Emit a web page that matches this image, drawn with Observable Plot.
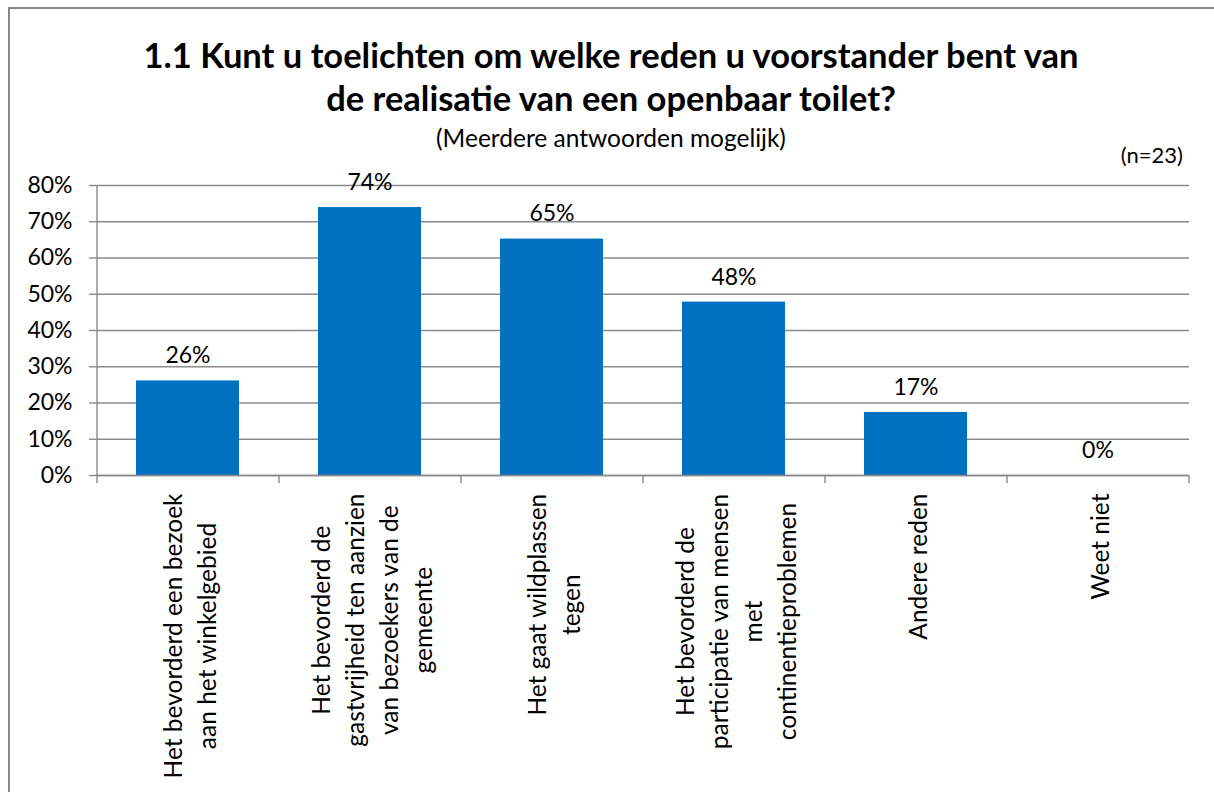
<!DOCTYPE html>
<html>
<head>
<meta charset="utf-8">
<script src="https://cdn.jsdelivr.net/npm/d3@7"></script>
<script src="https://cdn.jsdelivr.net/npm/@observablehq/plot@0.6"></script>
<style>
  html, body { margin: 0; padding: 0; background: #fff; }
  #wrap { position: relative; width: 1214px; height: 792px; overflow: hidden; font-family: Lato, "Open Sans", sans-serif; color: #000; }
  #frame { position: absolute; left: 8px; top: 7px; right: -4px; bottom: -4px; border-left: 2px solid #878787; border-top: 2px solid #878787; }
  #header { position: relative; height: 160px; }
  #title { position: absolute; left: 8px; width: 1206px; top: 33px; text-align: center; font-weight: bold; font-size: 34.5px; line-height: 43px; }
  #subtitle { position: absolute; left: 8px; width: 1206px; top: 124px; text-align: center; font-size: 24.5px; line-height: 28px; }
  #n { position: absolute; right: 31px; top: 141px; font-size: 22px; line-height: 28px; }
  #chart svg { display: block; }
</style>
</head>
<body>
<div id="wrap">
  <div id="frame"></div>
  <div id="header">
    <div id="title">1.1 Kunt u toelichten om welke reden u voorstander bent van<br>de realisatie van een openbaar toilet?</div>
    <div id="subtitle">(Meerdere antwoorden mogelijk)</div>
    <div id="n">(n=23)</div>
  </div>
  <div id="chart"></div>
</div>
<script>
const categories = [
  "Het bevorderd een bezoek\naan het winkelgebied",
  "Het bevorderd de\ngastvrijheid ten aanzien\nvan bezoekers van de\ngemeente",
  "Het gaat wildplassen\ntegen",
  "Het bevorderd de\nparticipatie van mensen\nmet\ncontinentieproblemen",
  "Andere reden",
  "Weet niet"
];
const counts = [6, 17, 15, 11, 4, 0];
const total = 23;
const values = counts.map(c => c / total);
const yTicks = [0, 0.1, 0.2, 0.3, 0.4, 0.5, 0.6, 0.7, 0.8];

const data = categories.map((c, i) => ({cat: c, value: values[i]}));

const W = 1214, H = 632, ML = 97, MR = 25, MT = 25, MB = 317;
const step = (W - ML - MR) / categories.length;
const gray = "#8a8a8a";
const fontFamily = 'Lato, "Open Sans", sans-serif';
const labelSize = 23;
const catSize = 24.5;

const ctx = document.createElement("canvas").getContext("2d");
ctx.font = `${catSize}px ${fontFamily}`;
const longest = c => Math.max(...c.split("\n").map(s => ctx.measureText(s).width));

const catMarks = categories.map(c => Plot.text([c], {
  x: d => d,
  frameAnchor: "bottom",
  text: d => d,
  rotate: -90,
  textAnchor: "middle",
  lineAnchor: "middle",
  lineHeight: 1.4,
  fontSize: catSize,
  fill: "#000",
  dy: 18 + longest(c) / 2
}));

const chart = Plot.plot({
  width: W, height: H,
  marginLeft: ML, marginRight: MR, marginTop: MT, marginBottom: MB,
  style: {fontFamily, color: "#000", background: "transparent"},
  x: {domain: categories, paddingInner: 0.434, paddingOuter: 0.217, axis: null},
  y: {domain: [0, 0.8], axis: null},
  marks: [
    Plot.gridY(yTicks, {stroke: gray, strokeOpacity: 1, strokeWidth: 1.4}),
    Plot.barY(data, {x: "cat", y: "value", fill: "#0070C0"}),
    Plot.ruleY([0], {stroke: gray, strokeWidth: 1.4}),
    Plot.ruleX([categories[0]], {x: d => d, y1: 0, y2: 0.8, dx: -step / 2, stroke: gray, strokeWidth: 1.4}),
    Plot.ruleX(categories, {x: d => d, y1: 0, y2: 0, insetBottom: -8, dx: -step / 2, stroke: gray, strokeWidth: 1.4}),
    Plot.ruleX([categories[categories.length - 1]], {x: d => d, y1: 0, y2: 0, insetBottom: -8, dx: step / 2, stroke: gray, strokeWidth: 1.4}),
    Plot.axisY(yTicks, {
      label: null,
      tickSize: 8, tickPadding: 17, stroke: gray, strokeWidth: 1.4,
      fill: "#000", fontSize: labelSize,
      tickFormat: d => Math.round(d * 100) + "%"
    }),
    Plot.text(data, {
      x: "cat", y: "value",
      text: d => Math.round(d.value * 100) + "%",
      dy: -25, fontSize: labelSize, fill: "#000", lineAnchor: "middle"
    }),
    ...catMarks
  ]
});
document.getElementById("chart").appendChild(chart);
</script>
</body>
</html>
